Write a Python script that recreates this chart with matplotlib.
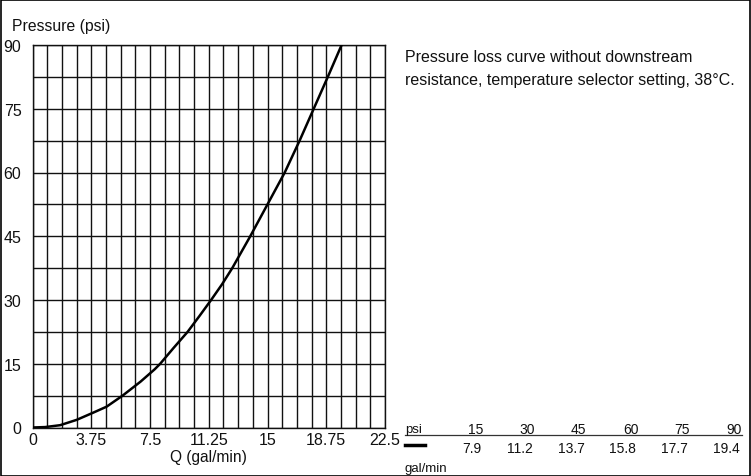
import matplotlib
matplotlib.use("Agg")
import matplotlib.pyplot as plt
from matplotlib.patches import Rectangle
from matplotlib.lines import Line2D
import numpy as np

plt.rcParams['font.family'] = ['Liberation Sans', 'DejaVu Sans']

# Curve
flow_q = [0, 0.8, 1.76, 2.82, 3.88, 4.73, 5.75, 6.9, 7.8, 8.15, 9.0, 9.9, 10.65,
          11.4, 12.1, 12.75, 13.9, 15.0, 16.1, 17.05, 17.95, 18.85, 19.73]
pressure_p = [0, 0.1, 0.54, 1.8, 3.5, 4.9, 7.5, 10.8, 13.7, 15, 18.7, 22.5, 26.2,
              30, 33.7, 37.5, 45, 52.5, 60, 67.5, 75, 82.5, 90]

x_ticks = [0, 3.75, 7.5, 11.25, 15, 18.75, 22.5]
x_tick_labels = ['0', '3.75', '7.5', '11.25', '15', '18.75', '22.5']
y_ticks = [0, 15, 30, 45, 60, 75, 90]

table_psi = ['15', '30', '45', '60', '75', '90']
table_gpm = ['7.9', '11.2', '13.7', '15.8', '17.7', '19.4']

W, H = 751, 477
fig = plt.figure(figsize=(W / 100, H / 100), dpi=100)
fig.patch.set_facecolor('white')

ax = fig.add_axes([32.5 / W, 1 - 428.5 / H, (385 - 32.5) / W, (428.5 - 46) / H])
ax.set_xlim(0, 22.5)
ax.set_ylim(0, 90)

# grid
for gx in np.arange(0, 22.5 + 1e-9, 0.9375):
    ax.axvline(gx, color='#111111', lw=1.0, zorder=1)
for gy in np.arange(0, 90 + 1e-9, 7.5):
    ax.axhline(gy, color='#111111', lw=1.0, zorder=1)

ax.plot(flow_q, pressure_p, color='black', lw=1.8, zorder=3,
        solid_capstyle='round', solid_joinstyle='round')

ax.set_xticks(x_ticks)
ax.set_xticklabels(x_tick_labels)
ax.set_yticks(y_ticks)
ax.tick_params(axis='both', length=0, labelsize=11.5, colors='#111111')
ax.tick_params(axis='x', pad=3)
ax.tick_params(axis='y', pad=8)
for s in ax.spines.values():
    s.set_color('#111111')
    s.set_linewidth(1.0)

ax.set_xlabel('Q (gal/min)', fontsize=11.2, labelpad=2, color='#111111')
fig.text(12 / W, 1 - 27 / H, 'Pressure (psi)', fontsize=11.3, ha='left', va='center', color='#111111')

fig.text(405 / W, 1 - 58 / H, 'Pressure loss curve without downstream', fontsize=11.5,
         ha='left', va='center', color='#111111')
fig.text(405 / W, 1 - 80 / H, 'resistance, temperature selector setting, 38\u00b0C.', fontsize=11.5,
         ha='left', va='center', color='#111111')

# small table
fig.text(405 / W, 1 - 430 / H, 'psi', fontsize=9.5, ha='left', va='center', color='#111111')
fig.text(405 / W, 1 - 469 / H, 'gal/min', fontsize=9.5, ha='left', va='center', color='#111111')
x0, dx = 483, 51.75
for i, (p, q) in enumerate(zip(table_psi, table_gpm)):
    xr = (x0 + i * dx) / W
    fig.text(xr, 1 - 430 / H, p, fontsize=10, ha='right', va='center', color='#111111')
    fig.text(xr - 2 / W, 1 - 449 / H, q, fontsize=10, ha='right', va='center', color='#111111')
fig.add_artist(Line2D([405 / W, 742 / W], [1 - 436 / H, 1 - 436 / H], color='#333333', lw=0.9,
                      transform=fig.transFigure))
fig.add_artist(Line2D([405 / W, 425 / W], [1 - 446 / H, 1 - 446 / H], color='black', lw=2.5,
                      transform=fig.transFigure))

# outer border
fig.add_artist(Rectangle((0.5 / W, 0.5 / H), (W - 1.5) / W, (H - 1.5) / H, fill=False,
                         edgecolor='black', lw=1.2, transform=fig.transFigure))

fig.savefig('out.png', dpi=100)
